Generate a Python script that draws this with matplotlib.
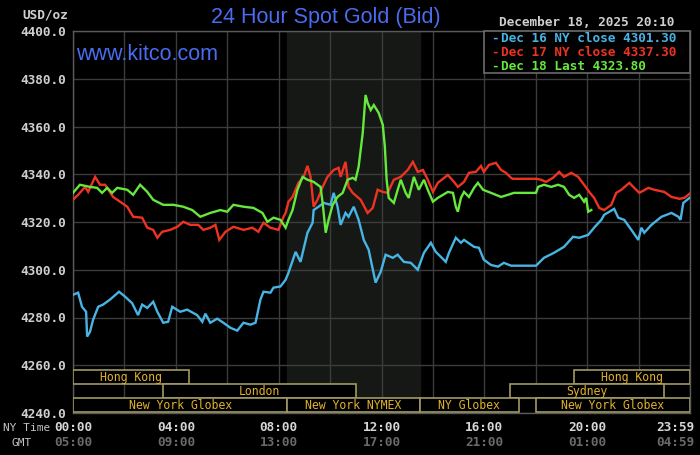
import matplotlib
matplotlib.use("Agg")
import matplotlib.pyplot as plt
from matplotlib.patches import Rectangle
from matplotlib.transforms import ScaledTranslation

# ---------------- data ----------------
dec16_t = [0.00, 0.20, 0.35, 0.51, 0.55, 0.66, 0.78, 0.98, 1.17, 1.44, 1.79, 2.03, 2.30, 2.53, 2.69,
           2.89, 3.12, 3.28, 3.51, 3.70, 3.86, 4.17, 4.44, 4.83, 5.03, 5.15, 5.34, 5.61, 5.85, 6.12,
           6.39, 6.63, 6.90, 7.10, 7.29, 7.41, 7.68, 7.80, 8.07, 8.27, 8.38, 8.66, 8.85, 9.12, 9.32,
           9.36, 9.55, 9.75, 10.02, 10.14, 10.29, 10.41, 10.60, 10.72, 10.92, 11.11, 11.31, 11.50,
           11.77, 11.97, 12.16, 12.44, 12.63, 12.87, 13.14, 13.41, 13.65, 13.92, 14.11, 14.31, 14.50,
           14.62, 14.89, 15.09, 15.21, 15.60, 15.79, 15.98, 16.26, 16.53, 16.76, 17.04, 18.01, 18.32,
           18.71, 19.10, 19.45, 19.69, 20.04, 20.27, 20.55, 20.66, 21.05, 21.21, 21.44, 21.72, 21.99,
           22.11, 22.22, 22.50, 22.89, 23.28, 23.55, 23.63, 23.74, 23.98]
dec16_v = [4289.5, 4290.4, 4284.5, 4282.4, 4272.0, 4274.0, 4279.0, 4284.5, 4285.4, 4287.5, 4290.8,
           4288.7, 4286.0, 4281.0, 4285.4, 4284.0, 4286.6, 4282.4, 4277.8, 4278.2, 4284.5, 4282.4,
           4283.3, 4281.0, 4278.2, 4281.6, 4277.8, 4279.5, 4277.8, 4275.7, 4274.5, 4277.8, 4277.0,
           4277.8, 4287.5, 4290.8, 4290.4, 4292.5, 4293.0, 4295.8, 4298.7, 4307.5, 4303.3, 4315.5,
           4319.7, 4325.0, 4326.4, 4328.0, 4327.2, 4332.2, 4326.4, 4318.8, 4323.8, 4322.2, 4326.4,
           4320.9, 4312.5, 4308.4, 4294.6, 4299.2, 4306.3, 4305.0, 4306.3, 4303.3, 4302.9, 4300.0,
           4307.1, 4311.3, 4307.5, 4305.4, 4303.3, 4307.0, 4313.4, 4311.3, 4312.5, 4309.6, 4309.2,
           4304.2, 4302.0, 4301.3, 4302.9, 4301.7, 4301.7, 4305.0, 4307.1, 4309.6, 4313.8, 4313.4,
           4314.6, 4317.6, 4320.9, 4323.0, 4325.5, 4321.8, 4320.9, 4316.7, 4312.5, 4317.6, 4315.5,
           4318.8, 4322.2, 4323.8, 4322.2, 4320.9, 4328.0, 4330.1]

dec17_t = [0.00, 0.20, 0.47, 0.59, 0.86, 1.05, 1.25, 1.56, 1.83, 2.11, 2.34, 2.69, 2.89, 3.12, 3.28,
           3.47, 3.78, 4.06, 4.29, 4.56, 4.87, 5.07, 5.34, 5.54, 5.69, 5.93, 6.24, 6.63, 6.98, 7.21,
           7.41, 7.68, 7.99, 8.19, 8.27, 8.38, 8.54, 8.77, 8.97, 9.12, 9.24, 9.36, 9.51, 9.71, 9.90,
           10.14, 10.33, 10.41, 10.60, 10.72, 10.88, 11.19, 11.46, 11.66, 11.85, 12.05, 12.24, 12.48,
           12.75, 13.02, 13.22, 13.41, 13.61, 13.80, 14.00, 14.19, 14.58, 14.82, 14.97, 15.21, 15.40,
           15.67, 15.87, 15.98, 16.18, 16.45, 16.65, 16.84, 17.04, 17.10, 18.01, 18.21, 18.40, 18.67,
           18.91, 19.10, 19.38, 19.65, 19.88, 20.08, 20.27, 20.47, 20.66, 20.94, 21.13, 21.33, 21.64,
           21.83, 22.03, 22.38, 22.61, 23.00, 23.28, 23.59, 23.78, 23.98]
dec17_v = [4329.3, 4331.4, 4334.7, 4332.6, 4338.9, 4335.6, 4335.6, 4330.5, 4328.5, 4326.4, 4322.2,
           4321.8, 4317.6, 4316.7, 4313.4, 4315.9, 4316.7, 4318.0, 4320.1, 4318.8, 4318.8, 4316.7,
           4317.6, 4318.8, 4312.5, 4315.9, 4318.0, 4316.7, 4317.6, 4315.9, 4319.7, 4317.6, 4316.7,
           4322.2, 4323.8, 4328.5, 4330.5, 4336.4, 4338.9, 4343.5, 4338.9, 4326.4, 4329.3, 4334.7,
           4338.9, 4341.8, 4342.7, 4338.9, 4345.2, 4334.7, 4332.2, 4329.3, 4323.8, 4325.9, 4333.5,
           4332.6, 4332.2, 4337.7, 4338.9, 4341.8, 4345.2, 4341.0, 4341.8, 4337.7, 4332.6, 4336.4,
           4339.7, 4336.8, 4334.7, 4336.8, 4340.6, 4341.0, 4343.5, 4341.0, 4343.9, 4344.8, 4341.8,
           4340.6, 4338.5, 4338.1, 4338.1, 4337.7, 4336.8, 4338.5, 4341.0, 4338.9, 4340.6, 4338.9,
           4335.6, 4332.6, 4330.1, 4325.9, 4325.0, 4327.2, 4332.2, 4333.5, 4336.4, 4334.3, 4332.2,
           4334.3, 4333.5, 4332.6, 4330.5, 4329.7, 4330.1, 4331.8]

dec18_t = [0.00, 0.27, 0.66, 0.94, 1.13, 1.33, 1.52, 1.72, 2.11, 2.34, 2.61, 2.89, 3.12, 3.51, 3.90,
           4.29, 4.64, 4.95, 5.34, 5.73, 6.00, 6.24, 6.63, 7.02, 7.37, 7.56, 7.80, 8.07, 8.27, 8.38,
           8.54, 8.73, 8.93, 9.12, 9.36, 9.63, 9.71, 9.83, 9.94, 10.10, 10.29, 10.49, 10.68, 10.88,
           10.99, 11.11, 11.27, 11.38, 11.46, 11.58, 11.70, 11.89, 12.05, 12.13, 12.20, 12.28, 12.48,
           12.63, 12.75, 12.94, 13.06, 13.26, 13.45, 13.65, 13.80, 14.00, 14.19, 14.58, 14.78, 14.89,
           14.97, 15.09, 15.21, 15.40, 15.60, 15.75, 15.95, 16.26, 16.65, 16.92, 17.15, 18.01, 18.09,
           18.32, 18.60, 18.87, 19.10, 19.30, 19.49, 19.69, 19.88, 19.96, 20.04, 20.16]
dec18_v = [4332.2, 4335.6, 4334.7, 4334.3, 4332.2, 4334.3, 4332.2, 4334.3, 4333.5, 4331.4, 4335.6,
           4332.6, 4329.3, 4327.2, 4327.2, 4326.4, 4325.0, 4322.2, 4323.8, 4325.0, 4324.3, 4327.2,
           4326.4, 4325.9, 4323.8, 4320.1, 4321.8, 4320.9, 4317.6, 4320.9, 4325.0, 4333.5, 4338.9,
           4337.7, 4336.8, 4334.7, 4328.0, 4315.5, 4320.9, 4327.2, 4330.5, 4332.2, 4337.7, 4338.5,
           4337.7, 4343.1, 4357.3, 4373.2, 4369.9, 4366.9, 4369.0, 4365.7, 4360.7, 4351.5, 4337.7,
           4330.1, 4328.0, 4333.5, 4337.7, 4332.2, 4330.1, 4338.9, 4333.5, 4337.7, 4333.5, 4328.5,
           4330.1, 4332.6, 4332.2, 4326.4, 4324.3, 4330.1, 4332.6, 4330.5, 4334.3, 4336.4, 4333.5,
           4332.2, 4330.5, 4331.4, 4332.2, 4332.2, 4334.7, 4335.6, 4334.7, 4335.6, 4334.7, 4331.4,
           4330.1, 4331.4, 4328.5, 4330.1, 4324.3, 4325.0]

legend_labels = ["Dec 16 NY close 4301.30", "Dec 17 NY close 4337.30", "Dec 18 Last 4323.80"]
series_colors = ["#48b4e4", "#ee3322", "#66e83c"]

y_ticks = [4240, 4260, 4280, 4300, 4320, 4340, 4360, 4380, 4400]
x_ticks = [0, 4, 8, 12, 16, 20, 23.98]
ny_labels = ["00:00", "04:00", "08:00", "12:00", "16:00", "20:00", "23:59"]
gmt_labels = ["05:00", "09:00", "13:00", "17:00", "21:00", "01:00", "04:59"]

session_names = ["Hong Kong", "Hong Kong", "London", "Sydney",
                 "New York Globex", "New York NYMEX", "NY Globex", "New York Globex"]
session_start = [0.0, 19.5, 3.5, 17.0, 0.0, 8.33, 13.5, 18.0]
session_end = [4.5, 24.0, 11.0, 23.0, 8.33, 13.5, 17.33, 24.0]
session_row = [0, 0, 1, 1, 2, 2, 2, 2]
nymex_window = (8.33, 13.5)

title = "24 Hour Spot Gold (Bid)"
stamp = "December 18, 2025 20:10"

# ---------------- figure ----------------
W, H = 700, 455
fig = plt.figure(figsize=(W / 100, H / 100), dpi=100, facecolor="black")
ax = fig.add_axes([73 / W, 1 - 413 / H, 617 / W, 382 / H])
ax.set_facecolor("black")
ax.set_xlim(0, 24)
ax.set_ylim(4240, 4400)

mono = "DejaVu Sans Mono"

# shaded NYMEX window
ax.axvspan(nymex_window[0], nymex_window[1], color="#151815", zorder=0)

# grid
for yv in y_ticks:
    ax.axhline(yv, color="#3c3c3c", lw=1.0, zorder=1)
for xv in range(0, 25, 2):
    ax.axvline(xv, color="#3c3c3c", lw=1.0, zorder=1)

for s in ax.spines.values():
    s.set_color("#5a5a5a")
    s.set_linewidth(1.0)

ax.set_yticks(y_ticks)
ax.set_yticklabels([f"{v:.1f}" for v in y_ticks], family=mono, fontweight="bold",
                   fontsize=9.2, color="#cfcfcf")
ax.tick_params(axis="y", length=0, pad=5)
ax.set_xticks([])

# x labels (NY time and GMT)
xt = ax.get_xaxis_transform()
for i, (xv, ny, gm) in enumerate(zip(x_ticks, ny_labels, gmt_labels)):
    last = i == len(x_ticks) - 1
    tr = xt + ScaledTranslation(5 / 100, 0, fig.dpi_scale_trans) if last else xt
    ha = "right" if last else "center"
    ax.text(xv, -0.038, ny, transform=tr, ha=ha, va="center", family=mono,
            fontweight="bold", fontsize=9.2, color="#d6d6d6", clip_on=False)
    ax.text(xv, -0.076, gm, transform=tr, ha=ha, va="center", family=mono,
            fontweight="bold", fontsize=9.2, color="#6a6a6a", clip_on=False)

# series
for t, v, c in zip([dec16_t, dec17_t, dec18_t], [dec16_v, dec17_v, dec18_v], series_colors):
    ax.plot(t, v, color=c, lw=1.7, zorder=3, solid_joinstyle="miter")

# sessions
row_bottoms = [4252.0, 4246.1, 4240.3]
row_h = 5.9
for name, s0, s1, r in zip(session_names, session_start, session_end, session_row):
    ax.add_patch(Rectangle((s0, row_bottoms[r]), s1 - s0, row_h, facecolor="black",
                           edgecolor="#a09a62", lw=1.2, zorder=4))
    ax.text((s0 + s1) / 2, row_bottoms[r] + row_h / 2, name, ha="center", va="center",
            family=mono, fontsize=8.3, color="#e2b22e", zorder=5)

# titles & texts
fig.text(326 / W, 1 - 18 / H, title, ha="center", va="center", family="Liberation Sans",
         fontsize=15.5, color="#4a6cf0")
fig.text(76 / W, 1 - 54 / H, "www.kitco.com", ha="left", va="center", family="Liberation Sans",
         fontsize=15.5, color="#4a6cf0")
fig.text(68 / W, 1 - 15 / H, "USD/oz", ha="right", va="center", family=mono, fontweight="bold",
         fontsize=9.2, color="#cfcfcf")
fig.text(587 / W, 1 - 22 / H, stamp, ha="center", va="center", family=mono, fontweight="bold",
         fontsize=9.2, color="#cfcfcf")
fig.text(3 / W, 1 - 428 / H, "NY Time", ha="left", va="center", family=mono,
         fontsize=8.0, color="#c4c4c4")
fig.text(12 / W, 1 - 443 / H, "GMT", ha="left", va="center", family=mono,
         fontsize=8.0, color="#c4c4c4")

# legend box
fig.patches.append(Rectangle((484 / W, 1 - 73 / H), 206 / W, 42 / H, transform=fig.transFigure,
                             facecolor="black", edgecolor="#6a6a6a", lw=1.2, zorder=6))
for i, (lab, c) in enumerate(zip(legend_labels, series_colors)):
    yy = 1 - (38 + 14 * i) / H
    fig.text(491 / W, yy, "-", ha="left", va="center", family=mono, fontweight="bold",
             fontsize=9.2, color=c, zorder=7)
    fig.text(501 / W, yy, lab, ha="left", va="center", family=mono, fontweight="bold",
             fontsize=9.2, color=c, zorder=7)

fig.savefig("out.png", dpi=100, facecolor="black")
